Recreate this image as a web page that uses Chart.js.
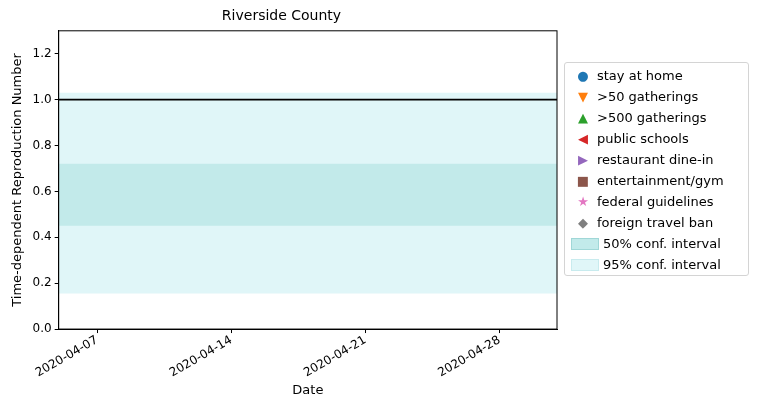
<!DOCTYPE html>
<html>
<head>
<meta charset="utf-8">
<script src="https://cdn.jsdelivr.net/npm/chart.js@4/dist/chart.umd.min.js"></script>
<style>
  body { margin: 0; background: #fff; font-family: "DejaVu Sans", sans-serif; }
  #wrap { position: relative; width: 759px; height: 400px; }
  #legend { position: absolute; left: 564px; top: 62px; width: 185px; height: 214px;
    border: 1px solid #d4d4d4; border-radius: 3px; font-size: 13px; padding: 0; box-sizing: border-box; }
  .item { display: flex; align-items: center; height: 21px; margin-left: 4px; }
  .item:first-child { margin-top: 2px; }
  .sym { width: 28px; text-align: center; font-size: 13px; }
  .patch { width: 26px; height: 10px; margin: 0 4px 0 2px; }
</style>
</head>
<body>
<div id="wrap">
  <canvas id="c" width="759" height="400"></canvas>
  <div id="legend"></div>
</div>
<script>
// days counted from 2020-04-05
const startDate = new Date(Date.UTC(2020, 3, 5));
const xRange = [0, 26];
const tickDays = [2, 9, 16, 23];
const reproLine = [1.0, 1.0];
const ci95Upper = [1.03, 1.03];
const ci95Lower = [0.155, 0.155];
const ci50Upper = [0.72, 0.72];
const ci50Lower = [0.45, 0.45];
const interventions = ['stay at home', '>50 gatherings', '>500 gatherings', 'public schools',
  'restaurant dine-in', 'entertainment/gym', 'federal guidelines', 'foreign travel ban'];
const markerSymbols = ['●', '▼', '▲', '◀', '▶', '■', '★', '◆'];
const markerColors = ['#1f77b4', '#ff7f0e', '#2ca02c', '#d62728', '#9467bd', '#8c564b', '#e377c2', '#7f7f7f'];

function pts(vals) { return xRange.map((x, i) => ({ x: x, y: vals[i] })); }

function fmt(d) {
  const dt = new Date(startDate.getTime() + d * 86400000);
  return dt.toISOString().slice(0, 10);
}

const tickFont = { family: 'DejaVu Sans', size: 12 };

new Chart(document.getElementById('c'), {
  type: 'scatter',
  data: {
    datasets: [
      { order: 5, data: pts(ci95Upper), showLine: true, pointRadius: 0, borderWidth: 0, fill: '+1', backgroundColor: 'rgb(224,246,248)' },
      { order: 4, data: pts(ci95Lower), showLine: true, pointRadius: 0, borderWidth: 0, fill: false },
      { order: 3, data: pts(ci50Upper), showLine: true, pointRadius: 0, borderWidth: 0, fill: '+1', backgroundColor: 'rgb(194,234,234)' },
      { order: 2, data: pts(ci50Lower), showLine: true, pointRadius: 0, borderWidth: 0, fill: false },
      { order: 1, data: pts(reproLine), showLine: true, pointRadius: 0, borderWidth: 1.8, borderColor: '#000', fill: false }
    ]
  },
  options: {
    responsive: false,
    animation: false,
    layout: { padding: { right: 202, top: 2, left: 6, bottom: 2 } },
    plugins: {
      legend: { display: false },
      tooltip: { enabled: false },
      title: { display: true, text: 'Riverside County', color: '#000',
        font: { family: 'DejaVu Sans', size: 14, weight: 'normal' }, padding: { top: 6, bottom: 6 } }
    },
    scales: {
      x: {
        type: 'linear', min: xRange[0], max: xRange[1],
        grid: { drawOnChartArea: false, drawTicks: true, tickLength: 4, tickColor: '#000' },
        border: { color: '#000' },
        afterBuildTicks: (ax) => { ax.ticks = tickDays.map(v => ({ value: v })); },
        ticks: { color: '#000', font: tickFont, minRotation: 30, maxRotation: 30, padding: 0,
          callback: (v) => fmt(v) },
        title: { display: true, text: 'Date', color: '#000', font: { family: 'DejaVu Sans', size: 13 }, padding: { top: 2, bottom: 0 } }
      },
      y: {
        min: 0, max: 1.3,
        grid: { drawOnChartArea: false, drawTicks: true, tickLength: 4, tickColor: '#000' },
        border: { color: '#000' },
        afterBuildTicks: (ax) => { ax.ticks = [0, 0.2, 0.4, 0.6, 0.8, 1.0, 1.2].map(v => ({ value: v })); },
        ticks: { color: '#000', font: tickFont, padding: 3, callback: (v) => v.toFixed(1) },
        title: { display: true, text: 'Time-dependent Reproduction Number', color: '#000',
          font: { family: 'DejaVu Sans', size: 13 } }
      }
    }
  },
  plugins: [{
    id: 'frame',
    afterDraw(chart) {
      const { ctx, chartArea: a } = chart;
      ctx.save();
      ctx.strokeStyle = '#000';
      ctx.lineWidth = 1;
      ctx.strokeRect(a.left, a.top, a.right - a.left, a.bottom - a.top);
      ctx.restore();
    }
  }]
});

const legend = document.getElementById('legend');
interventions.forEach((name, i) => {
  const el = document.createElement('div');
  el.className = 'item';
  el.innerHTML = '<span class="sym" style="color:' + markerColors[i] + '">' + markerSymbols[i] + '</span><span>' + name + '</span>';
  legend.appendChild(el);
});
[['50% conf. interval', 'rgb(194,234,234)', 'rgb(160,215,215)'], ['95% conf. interval', 'rgb(224,246,248)', 'rgb(200,235,238)']].forEach(p => {
  const el = document.createElement('div');
  el.className = 'item';
  el.innerHTML = '<span class="patch" style="background:' + p[1] + ';border:1px solid ' + p[2] + '"></span><span>' + p[0] + '</span>';
  legend.appendChild(el);
});
</script>
</body>
</html>
